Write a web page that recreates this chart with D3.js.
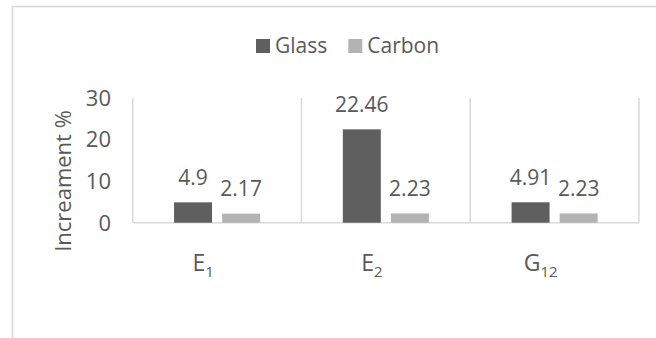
<!DOCTYPE html>
<html>
<head>
<meta charset="utf-8">
<script src="https://cdn.jsdelivr.net/npm/d3@7"></script>
<style>
  html, body { margin: 0; padding: 0; background: #ffffff; }
  svg { display: block; }
  text { font-family: "Open Sans", "Noto Sans", sans-serif; fill: #595959; }
</style>
</head>
<body>
<svg id="chart" width="656" height="338"></svg>
<script>
// Category labels: main symbol and subscript
const categoryMain = ["E", "E", "G"];
const categorySub = ["1", "2", "12"];
const categories = ["E1", "E2", "G12"];

// Series
const seriesNames = ["Glass", "Carbon"];
const glassValues = [4.9, 22.46, 4.91];
const carbonValues = [2.17, 2.23, 2.23];

// Value axis
const yTicks = [0, 10, 20, 30];
const yTitle = "Increament %";

const colors = { Glass: "#5f5f5f", Carbon: "#b3b3b3" };
const gridColor = "#d9d9d9";

const svg = d3.select("#chart");

svg.append("rect")
  .attr("width", 656).attr("height", 338).attr("fill", "#ffffff");

// chart frame
svg.append("rect")
  .attr("x", 12.5).attr("y", 6.5)
  .attr("width", 700).attr("height", 400)
  .attr("fill", "none")
  .attr("stroke", gridColor)
  .attr("stroke-width", 1.6);

const plot = { left: 132.7, right: 639, top: 98, bottom: 222.7 };

const x = d3.scaleBand().domain(categories).range([plot.left, plot.right]).padding(0);
const xs = d3.scaleBand().domain(seriesNames).range([0, x.bandwidth()])
  .paddingInner(0.21).paddingOuter(0.86);
const y = d3.scaleLinear().domain([0, 30]).range([plot.bottom, plot.top]);

// vertical category separators
const sepX = categories.map(c => x(c)).concat([plot.right]);
svg.append("g").selectAll("line").data(sepX).join("line")
  .attr("x1", d => d).attr("x2", d => d)
  .attr("y1", y(30)).attr("y2", y(0))
  .attr("stroke", gridColor).attr("stroke-width", 1.5);

// baseline
svg.append("line")
  .attr("x1", plot.left).attr("x2", plot.right)
  .attr("y1", y(0)).attr("y2", y(0))
  .attr("stroke", gridColor).attr("stroke-width", 1.5);

// y tick labels
svg.append("g").selectAll("text").data(yTicks).join("text")
  .attr("x", 111).attr("y", d => y(d)).attr("dy", "0.36em")
  .attr("text-anchor", "end")
  .style("font-size", "22px")
  .text(d => d);

// y axis title
svg.append("text")
  .attr("transform", "translate(71,181) rotate(-90)")
  .attr("text-anchor", "middle")
  .style("font-size", "22px")
  .text(yTitle);

// bars and value labels
const rows = categories.map((c, i) => ({ cat: c, Glass: glassValues[i], Carbon: carbonValues[i] }));
const barData = [];
rows.forEach(r => seriesNames.forEach(s => barData.push({ cat: r.cat, series: s, value: r[s] })));

svg.append("g").selectAll("rect").data(barData).join("rect")
  .attr("x", d => x(d.cat) + xs(d.series))
  .attr("width", xs.bandwidth())
  .attr("y", d => y(d.value))
  .attr("height", d => y(0) - y(d.value))
  .attr("fill", d => colors[d.series]);

svg.append("g").selectAll("text").data(barData).join("text")
  .attr("x", d => x(d.cat) + xs(d.series) + xs.bandwidth() / 2)
  .attr("y", d => y(d.value) - 17.5)
  .attr("text-anchor", "middle")
  .style("font-size", "21px")
  .text(d => d.value);

// category labels with subscripts
const catLabels = svg.append("g").selectAll("text").data(categories).join("text")
  .attr("x", d => x(d) + x.bandwidth() / 2 - 14)
  .attr("y", 271)
  .attr("text-anchor", "middle")
  .style("font-size", "23px");
catLabels.append("tspan").text((d, i) => categoryMain[i]);
catLabels.append("tspan")
  .attr("dy", 6)
  .style("font-size", "15px")
  .text((d, i) => categorySub[i]);

// legend
const legend = svg.append("g");
let lx = 256;
seriesNames.forEach(s => {
  legend.append("rect")
    .attr("x", lx).attr("y", 39).attr("width", 14).attr("height", 14)
    .attr("fill", colors[s]);
  const t = legend.append("text")
    .attr("x", lx + 19).attr("y", 53.3)
    .style("font-size", "21px")
    .text(s);
  lx += 19 + t.node().getComputedTextLength() + 21;
});
</script>
</body>
</html>
